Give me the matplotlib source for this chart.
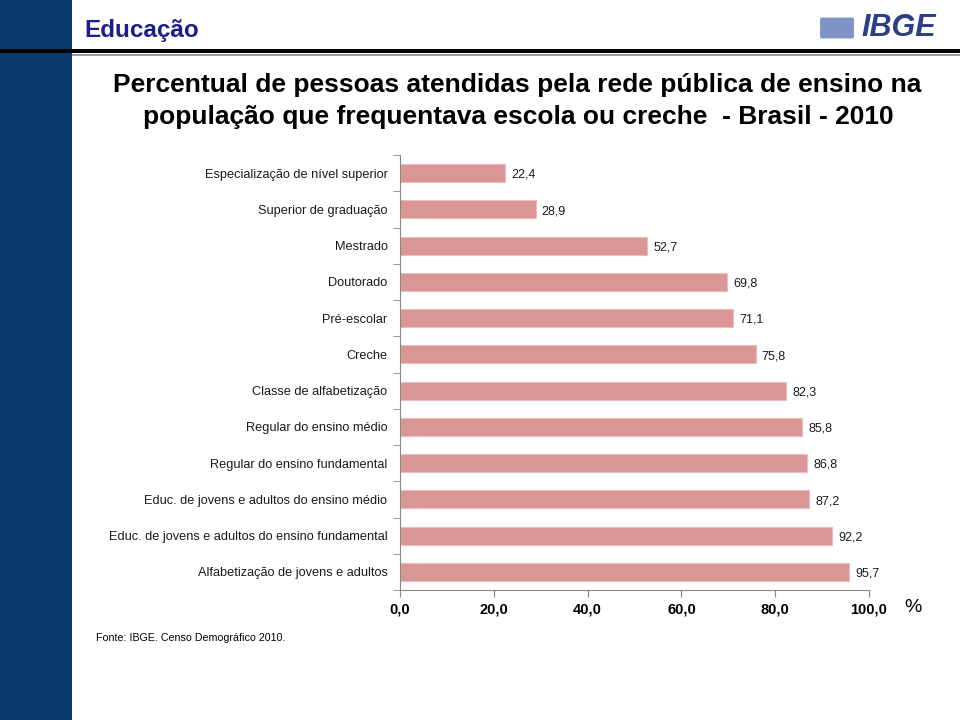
import matplotlib
matplotlib.use("Agg")
import matplotlib.pyplot as plt
from matplotlib.patches import Rectangle, FancyBboxPatch

plt.rcParams['font.family'] = ['Liberation Sans', 'DejaVu Sans']

categories = [
    "Especialização de nível superior",
    "Superior de graduação",
    "Mestrado",
    "Doutorado",
    "Pré-escolar",
    "Creche",
    "Classe de alfabetização",
    "Regular do ensino médio",
    "Regular do ensino fundamental",
    "Educ. de jovens e adultos do ensino médio",
    "Educ. de jovens e adultos do ensino fundamental",
    "Alfabetização de jovens e adultos",
]
values = [22.4, 28.9, 52.7, 69.8, 71.1, 75.8, 82.3, 85.8, 86.8, 87.2, 92.2, 95.7]
xticks = [0, 20, 40, 60, 80, 100]
xticklabels = ["0,0", "20,0", "40,0", "60,0", "80,0", "100,0"]

fig = plt.figure(figsize=(9.6, 7.2), dpi=100)

# left blue band
fig.patches.append(Rectangle((0, 0), 72/960, 1, transform=fig.transFigure,
                             facecolor="#0B3A6E", edgecolor="none", zorder=0))
# header lines
fig.patches.append(Rectangle((0, 1-53/720), 1, 4/720, transform=fig.transFigure,
                             facecolor="#000000", edgecolor="none", zorder=1))
fig.patches.append(Rectangle((72/960, 1-56/720), 1, 2/720, transform=fig.transFigure,
                             facecolor="#9A9A9A", edgecolor="none", zorder=1))

fig.text(84/960, 1-31/720, "Educação", fontsize=17.5, fontweight="bold",
         color="#1B1F8A", va="center", ha="left")
# IBGE logo (text + icon)
fig.text(936/960, 1-28/720, "IBGE", fontsize=22, fontweight="bold", fontstyle="italic",
         color="#2A3F86", va="center", ha="right")
fig.patches.append(FancyBboxPatch((822/960, 1-37/720), 30/960, 18/720,
                                  boxstyle="round,pad=0.002", transform=fig.transFigure,
                                  facecolor="#7F93C4", edgecolor="none", zorder=2))

fig.text(0.5*(110+925)/960, 1-85/720,
         "Percentual de pessoas atendidas pela rede pública de ensino na",
         fontsize=19, fontweight="bold", color="black", ha="center", va="center")
fig.text(0.5*(140+897)/960, 1-117/720,
         "população que frequentava escola ou creche  - Brasil - 2010",
         fontsize=19, fontweight="bold", color="black", ha="center", va="center")

ax = fig.add_axes([400/960, 1-590/720, 469/960, 435/720])
ypos = list(range(len(categories)))
ax.barh(ypos, values, height=0.5, color="#D99694", edgecolor="#E8BDBC", linewidth=0.8)
ax.set_ylim(len(categories)-0.5, -0.5)
ax.set_xlim(0, 100)
ax.set_yticks(ypos)
ax.set_yticklabels(categories, fontsize=9.2, color="#1A1A1A")
ax.tick_params(axis="y", length=0, pad=9)
ax.set_yticks([i - 0.5 for i in range(len(categories)+1)], minor=True)
ax.tick_params(axis="y", which="minor", length=5, color="#888888")
ax.set_xticks(xticks)
ax.set_xticklabels(xticklabels, fontsize=10.5, fontweight="bold")
ax.tick_params(axis="x", length=5, color="#888888", pad=4)
for s in ["top", "right"]:
    ax.spines[s].set_visible(False)
for s in ["left", "bottom"]:
    ax.spines[s].set_color("#888888")
for y, v in zip(ypos, values):
    ax.text(v + 1.3, y + 0.05, f"{v:.1f}".replace(".", ","), va="center", ha="left",
            fontsize=9, color="#1A1A1A")

fig.text(913/960, 1-607/720, "%", fontsize=14, ha="center", va="center")
fig.text(96/960, 1-638/720, "Fonte: IBGE. Censo Demográfico 2010.", fontsize=7.7,
         ha="left", va="center")

fig.savefig("out.png", dpi=100)
